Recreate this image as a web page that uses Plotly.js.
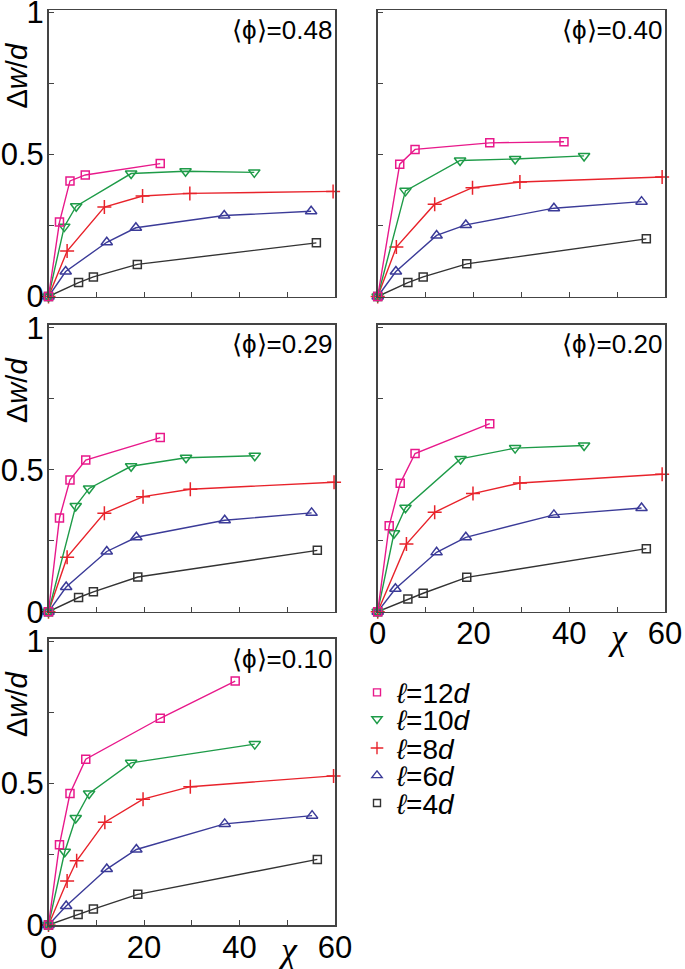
<!DOCTYPE html>
<html>
<head>
<meta charset="utf-8">
<script src="https://cdn.plot.ly/plotly-3.0.1.min.js"></script>
<style>html,body{margin:0;padding:0;background:#fff}#plot{width:685px;height:969px}</style>
</head>
<body>
<div id="plot"></div>
<script>
// ---------- data ----------
const phiLabels = ['0.48', '0.40', '0.29', '0.20', '0.10'];
const seriesNames = ['<i>ℓ</i>=12<i>d</i>', '<i>ℓ</i>=10<i>d</i>', '<i>ℓ</i>=8<i>d</i>', '<i>ℓ</i>=6<i>d</i>', '<i>ℓ</i>=4<i>d</i>'];
const xTickVals = [0, 10, 20, 30, 40, 50, 60];
const xTickText = ['0', '', '20', '', '40', '', '60'];
const yTickVals = [0, 0.25, 0.5, 0.75, 1];
const yTickText = ['0', '', '0.5', '', '1'];

// chi values, one inner array per panel (0.48, 0.40, 0.29, 0.20, 0.10)
const chi12 = [
  [0, 2.3, 4.5, 7.7, 23.4],
  [0, 4.6, 7.8, 23.4, 38.9],
  [0, 2.3, 4.5, 7.8, 23.4],
  [0, 2.4, 4.7, 7.8, 23.4],
  [0, 2.3, 4.5, 7.8, 23.4, 39.1]
];
const dw12 = [
  [0, 0.262, 0.407, 0.428, 0.468],
  [0, 0.466, 0.518, 0.541, 0.545],
  [0, 0.330, 0.464, 0.534, 0.613],
  [0, 0.303, 0.452, 0.557, 0.662],
  [0, 0.283, 0.463, 0.584, 0.728, 0.859]
];
const chi10 = [
  [0, 3.3, 5.8, 17.3, 28.7, 43.1],
  [0, 5.8, 17.2, 28.7, 43.1],
  [0, 5.7, 8.5, 17.3, 28.8, 43.2],
  [0, 3.4, 5.8, 17.3, 28.7, 43.1],
  [0, 3.4, 5.7, 8.5, 17.3, 43.2]
];
const dw10 = [
  [0, 0.246, 0.318, 0.433, 0.441, 0.437],
  [0, 0.372, 0.479, 0.484, 0.495],
  [0, 0.372, 0.434, 0.512, 0.542, 0.549],
  [0, 0.276, 0.366, 0.538, 0.576, 0.585],
  [0, 0.258, 0.377, 0.463, 0.571, 0.637]
];
const chi8 = [
  [0, 3.9, 11.7, 19.7, 29.6, 59.6],
  [0, 3.9, 11.9, 19.8, 29.7, 59.4],
  [0, 3.9, 11.7, 19.8, 29.7, 59.8],
  [0, 6.0, 11.9, 19.9, 29.7, 59.4],
  [0, 3.9, 5.9, 11.8, 19.8, 29.7, 59.7]
];
const dw8 = [
  [0, 0.160, 0.315, 0.354, 0.363, 0.370],
  [0, 0.174, 0.325, 0.383, 0.403, 0.421],
  [0, 0.192, 0.347, 0.405, 0.431, 0.456],
  [0, 0.238, 0.350, 0.416, 0.453, 0.484],
  [0, 0.155, 0.226, 0.362, 0.443, 0.487, 0.525]
];
const chi6 = [
  [0, 3.6, 12.2, 18.3, 36.8, 55.0],
  [0, 3.8, 12.3, 18.4, 36.8, 55.1],
  [0, 3.7, 12.2, 18.4, 36.9, 55.1],
  [0, 3.7, 12.3, 18.4, 36.8, 55.1],
  [0, 3.7, 12.2, 18.4, 36.9, 55.2]
];
const dw6 = [
  [0, 0.088, 0.191, 0.242, 0.285, 0.300],
  [0, 0.088, 0.215, 0.252, 0.311, 0.334],
  [0, 0.087, 0.212, 0.262, 0.322, 0.348],
  [0, 0.081, 0.209, 0.262, 0.341, 0.365],
  [0, 0.067, 0.197, 0.266, 0.356, 0.385]
];
const chi4 = [
  [0, 6.3, 9.4, 18.6, 56.1],
  [0, 6.3, 9.5, 18.6, 56.1],
  [0, 6.3, 9.4, 18.7, 56.3],
  [0, 6.3, 9.5, 18.6, 56.1],
  [0, 6.2, 9.4, 18.7, 56.3]
];
const dw4 = [
  [0, 0.049, 0.069, 0.113, 0.189],
  [0, 0.049, 0.069, 0.115, 0.203],
  [0, 0.050, 0.070, 0.122, 0.216],
  [0, 0.045, 0.065, 0.121, 0.222],
  [0, 0.037, 0.056, 0.108, 0.231]
];

// ---------- styling ----------
const W = 685, H = 969;
const FONT = 'Liberation Sans, Arial, sans-serif';
const styles = [
  {color: '#e8198b', symbol: 'square-open', size: 8},
  {color: '#1e9b48', symbol: 'triangle-down-open', size: 10},
  {color: '#e8232b', symbol: 'cross-thin-open', size: 10},
  {color: '#3b3b98', symbol: 'triangle-up-open', size: 10},
  {color: '#333333', symbol: 'square-open', size: 8}
];
const chiSets = [chi12, chi10, chi8, chi6, chi4];
const dwSets = [dw12, dw10, dw8, dw6, dw4];

// panel pixel boxes
const colX = [[48.5, 335], [377.7, 665]];
const rowY = [[10, 296.5], [324.5, 611.7], [638.5, 925]];
const panelPos = [[0, 0], [1, 0], [0, 1], [1, 1], [0, 2]];

const traces = [];
const layout = {
  width: W, height: H,
  margin: {l: 0, r: 0, t: 0, b: 0},
  paper_bgcolor: '#fff', plot_bgcolor: '#fff',
  font: {family: FONT, color: '#000'},
  showlegend: true,
  annotations: []
};

panelPos.forEach((pp, p) => {
  const id = p === 0 ? '' : String(p + 1);
  const [c, r] = pp;
  const xd = [colX[c][0] / W, colX[c][1] / W];
  const yd = [1 - rowY[r][1] / H, 1 - rowY[r][0] / H];
  const hpx = rowY[r][1] - rowY[r][0];
  const showX = (p === 3 || p === 4);
  const showY = (c === 0);
  const common = {
    showline: true, mirror: true, linecolor: '#444', linewidth: 1.5,
    ticks: 'inside', ticklen: 5, tickwidth: 1, tickcolor: '#444',
    showgrid: false, zeroline: false, fixedrange: true,
    ticklabeloverflow: 'allow',
    tickfont: {family: FONT, size: 31, color: '#000'}
  };
  layout['xaxis' + id] = Object.assign({}, common, {
    domain: xd, anchor: 'y' + id, range: [0, 60],
    tickmode: 'array', tickvals: xTickVals, ticktext: xTickText,
    showticklabels: showX, ticklabelstandoff: -6
  });
  layout['yaxis' + id] = Object.assign({}, common, {
    domain: yd, anchor: 'x' + id, range: [0, hpx / 284],
    tickmode: 'array', tickvals: yTickVals, ticktext: yTickText,
    showticklabels: showY, ticklabelstandoff: -3
  });
  for (let s = 4; s >= 0; s--) {
    const st = styles[s];
    traces.push({
      x: chiSets[s][p], y: dwSets[s][p],
      xaxis: 'x' + id, yaxis: 'y' + id,
      type: 'scatter', mode: 'lines+markers', cliponaxis: false,
      showlegend: false,
      line: {color: st.color, width: 1.4},
      marker: {symbol: st.symbol, size: st.size, color: st.color,
               line: {color: st.color, width: 1.5}}
    });
  }
  layout.annotations.push({
    xref: 'x' + id + ' domain', yref: 'y' + id + ' domain', x: 1, y: 1,
    xanchor: 'right', yanchor: 'top', xshift: -1, yshift: -3,
    text: '⟨ϕ⟩=' + phiLabels[p], showarrow: false,
    font: {family: FONT, size: 26, color: '#000'}
  });
  if (showY) {
    layout.annotations.push({
      xref: 'paper', yref: 'y' + id + ' domain', x: 16.5 / W, y: 1 - 66 / hpx,
      xanchor: 'center', yanchor: 'middle', textangle: -90,
      text: 'Δ<i>w</i>/<i>d</i>', showarrow: false,
      font: {family: FONT, size: 29, color: '#000'}
    });
  }
  if (showX) {
    layout.annotations.push({
      xref: 'x' + id, yref: 'y' + id + ' domain', x: 50.2, y: 0,
      xanchor: 'center', yanchor: 'top', yshift: -3,
      text: '<i>χ</i>', showarrow: false,
      font: {family: 'Liberation Serif, Times New Roman, serif', size: 36, color: '#000'}
    });
  }
});

// legend: one legend box per series so the row spacing matches the reference
const legendRowsY = [692.7, 719.3, 748.3, 775.7, 803.3];
styles.forEach((st, s) => {
  const lg = s === 0 ? 'legend' : 'legend' + (s + 1);
  traces.push({
    x: [null], y: [null], xaxis: 'x5', yaxis: 'y5',
    type: 'scatter', mode: 'markers', name: seriesNames[s],
    legend: lg, showlegend: true,
    marker: {symbol: st.symbol, size: st.size - 1, color: st.color,
             line: {color: st.color, width: 1.4}}
  });
  layout[lg] = {
    x: 357 / W, xanchor: 'left', y: 1 - legendRowsY[s] / H, yanchor: 'middle',
    bgcolor: 'rgba(0,0,0,0)', borderwidth: 0,
    font: {family: FONT, size: 28, color: '#000'}
  };
});

Plotly.newPlot('plot', traces, layout, {staticPlot: true});
</script>
</body>
</html>
